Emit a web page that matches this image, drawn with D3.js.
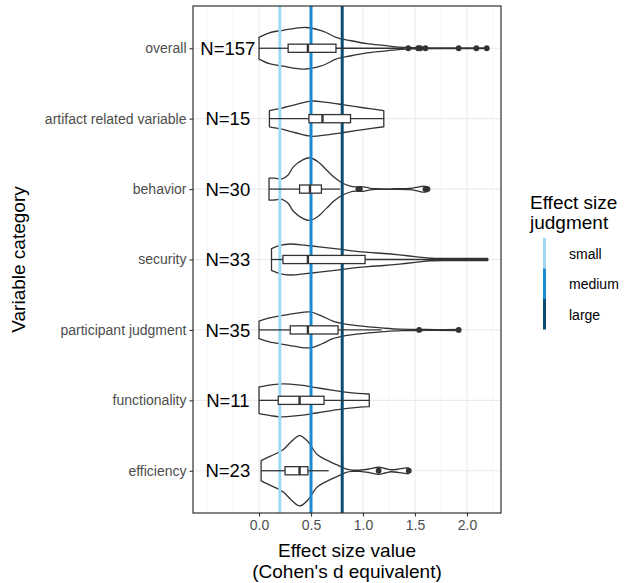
<!DOCTYPE html>
<html>
<head>
<meta charset="utf-8">
<script src="https://cdn.jsdelivr.net/npm/d3@7"></script>
<style>
  body { margin: 0; background: #fff; }
  text { font-family: "Liberation Sans", Arial, sans-serif; }
</style>
</head>
<body>
<svg id="chart" width="625" height="583"></svg>
<script>
// categories, top to bottom
var categories = ["overall", "artifact related variable", "behavior", "security",
                  "participant judgment", "functionality", "efficiency"];
var counts = [157, 15, 30, 33, 35, 11, 23];

// box statistics
var q1 = [0.28, 0.48, 0.39, 0.23, 0.30, 0.185, 0.25];
var medians = [0.47, 0.61, 0.49, 0.47, 0.47, 0.39, 0.39];
var q3 = [0.74, 0.88, 0.60, 1.02, 0.76, 0.625, 0.47];
var whiskerLo = [0.00, 0.10, 0.096, 0.12, 0.00, 0.00, 0.02];
var whiskerHi = [1.40, 1.20, 0.78, 2.20, 1.18, 1.06, 0.67];
var outliers = [
  [1.435, 1.53, 1.55, 1.60, 1.92, 2.09, 2.19],
  [],
  [0.955, 0.97, 1.60, 1.62],
  [],
  [1.54, 1.92],
  [],
  [1.15, 1.44]
];

// violin outlines: effect size value and relative density
var violinX = [
  [0.00, 0.10, 0.23, 0.45, 0.59, 0.65, 0.74, 0.875, 1.04, 1.2, 1.36, 1.5, 1.8, 2.2],
  [0.10, 0.22, 0.35, 0.5, 0.65, 0.8, 1.0, 1.2],
  [0.096, 0.15, 0.22, 0.28, 0.33, 0.42, 0.49, 0.57, 0.65, 0.72, 0.78, 0.87, 0.93, 0.96, 1.0, 1.06, 1.12, 1.3, 1.45, 1.53, 1.58, 1.62],
  [0.12, 0.2, 0.3, 0.45, 0.58, 0.75, 0.875, 1.05, 1.2, 1.35, 1.52, 1.65, 1.9, 2.2],
  [0.0, 0.1, 0.23, 0.35, 0.49, 0.6, 0.71, 0.82, 0.94, 1.2, 1.36, 1.54, 1.7, 1.92],
  [0.0, 0.12, 0.23, 0.4, 0.55, 0.7, 0.81, 0.95, 1.06],
  [0.02, 0.07, 0.18, 0.24, 0.31, 0.39, 0.47, 0.56, 0.68, 0.77, 0.84, 0.9, 0.97, 1.06, 1.15, 1.22, 1.27, 1.35, 1.435]
];
var violinDensity = [
  [0.31, 0.44, 0.51, 0.59, 0.51, 0.44, 0.31, 0.22, 0.13, 0.08, 0.03, 0.015, 0.01, 0.01],
  [0.23, 0.30, 0.40, 0.50, 0.46, 0.40, 0.31, 0.23],
  [0.31, 0.31, 0.29, 0.40, 0.63, 0.83, 0.89, 0.77, 0.54, 0.34, 0.21, 0.09, 0.06, 0.066, 0.063, 0.03, 0.011, 0.009, 0.017, 0.057, 0.086, 0.071],
  [0.31, 0.40, 0.44, 0.40, 0.36, 0.30, 0.25, 0.20, 0.17, 0.13, 0.077, 0.035, 0.03, 0.03],
  [0.25, 0.34, 0.41, 0.47, 0.51, 0.40, 0.25, 0.17, 0.12, 0.05, 0.02, 0.017, 0.011, 0.017],
  [0.38, 0.44, 0.47, 0.43, 0.36, 0.29, 0.24, 0.20, 0.18],
  [0.29, 0.36, 0.51, 0.62, 0.83, 1.0, 0.83, 0.46, 0.26, 0.14, 0.043, 0.017, 0.017, 0.051, 0.10, 0.057, 0.029, 0.051, 0.086]
];

// reference lines
var judgments = ["small", "medium", "large"];
var thresholds = [0.2, 0.5, 0.8];
var judgmentColors = ["#9fd9f6", "#1a8bd0", "#0b4d72"];

var xTicks = [0, 0.5, 1, 1.5, 2];
var xMinor = [-0.5, -0.25, 0.25, 0.75, 1.25, 1.75, 2.25];

var svg = d3.select("#chart");
var pLeft = 193, pRight = 501, pTop = 6, pBottom = 513;
var ink = "#333";
var lw = 1.3;

var x = d3.scaleLinear().domain([-0.635, 2.327]).range([pLeft, pRight]);
var y = d3.scalePoint().domain(categories).range([pTop, pBottom]).padding(0.6);
var step = y.step();
var dens = d3.scaleLinear().domain([0, 1]).range([0, step * 0.5]);

// grid
var grid = svg.append("g");
grid.selectAll(".minor").data(xMinor).join("line")
  .attr("x1", d => x(d)).attr("x2", d => x(d)).attr("y1", pTop).attr("y2", pBottom)
  .attr("stroke", "#f2f2f2").attr("stroke-width", 0.6);
grid.selectAll(".major").data(xTicks).join("line")
  .attr("x1", d => x(d)).attr("x2", d => x(d)).attr("y1", pTop).attr("y2", pBottom)
  .attr("stroke", "#ebebeb").attr("stroke-width", 1.1);
grid.selectAll(".hmajor").data(categories).join("line")
  .attr("x1", pLeft).attr("x2", pRight).attr("y1", d => y(d)).attr("y2", d => y(d))
  .attr("stroke", "#ebebeb").attr("stroke-width", 1.1);

// violins
var plot = svg.append("g");
categories.forEach(function(c, i) {
  var cy = y(c);
  var pts = violinX[i].map((v, j) => [v, violinDensity[i][j]]);
  var area = d3.area()
    .x(d => x(d[0]))
    .y0(d => cy - dens(d[1]))
    .y1(d => cy + dens(d[1]))
    .curve(d3.curveCatmullRom.alpha(0.5));
  plot.append("path").attr("d", area(pts))
    .attr("fill", "#fff").attr("stroke", ink).attr("stroke-width", lw)
    .attr("stroke-linejoin", "round");
});

// reference lines
svg.append("g").selectAll("line").data(thresholds).join("line")
  .attr("x1", d => x(d)).attr("x2", d => x(d)).attr("y1", pTop).attr("y2", pBottom)
  .attr("stroke", (d, i) => judgmentColors[i]).attr("stroke-width", 3);

// boxplots
var boxHalf = step * 0.058;
var boxes = svg.append("g");
categories.forEach(function(c, i) {
  var cy = y(c);
  var g = boxes.append("g");
  g.append("line").attr("x1", x(whiskerLo[i])).attr("x2", x(q1[i]))
    .attr("y1", cy).attr("y2", cy).attr("stroke", ink).attr("stroke-width", lw);
  g.append("line").attr("x1", x(q3[i])).attr("x2", x(whiskerHi[i]))
    .attr("y1", cy).attr("y2", cy).attr("stroke", ink).attr("stroke-width", lw);
  g.append("rect").attr("x", x(q1[i])).attr("width", x(q3[i]) - x(q1[i]))
    .attr("y", cy - boxHalf).attr("height", boxHalf * 2)
    .attr("fill", "#fff").attr("stroke", ink).attr("stroke-width", lw);
  g.append("line").attr("x1", x(medians[i])).attr("x2", x(medians[i]))
    .attr("y1", cy - boxHalf).attr("y2", cy + boxHalf)
    .attr("stroke", ink).attr("stroke-width", 2.4);
  g.selectAll("circle").data(outliers[i]).join("circle")
    .attr("cx", d => x(d)).attr("cy", cy).attr("r", 2.9).attr("fill", ink);
});

// N labels
svg.append("g").selectAll("text").data(categories).join("text")
  .attr("x", x(-0.3)).attr("y", d => y(d)).attr("dy", "0.36em")
  .attr("text-anchor", "middle").attr("font-size", 18.5).attr("fill", "#000")
  .text((d, i) => "N=" + counts[i]);

// panel border
svg.append("rect").attr("x", pLeft).attr("y", pTop)
  .attr("width", pRight - pLeft).attr("height", pBottom - pTop)
  .attr("fill", "none").attr("stroke", ink).attr("stroke-width", 1.2);

// axes
var xAxis = svg.append("g").attr("transform", "translate(0," + pBottom + ")")
  .call(d3.axisBottom(x).tickValues(xTicks).tickFormat(d3.format(".1f")).tickSize(3.5).tickPadding(4));
var yAxis = svg.append("g").attr("transform", "translate(" + pLeft + ",0)")
  .call(d3.axisLeft(y).tickSize(3.5).tickPadding(3));
[xAxis, yAxis].forEach(function(a) {
  a.select(".domain").remove();
  a.selectAll(".tick line").attr("stroke", ink).attr("stroke-width", 1.1);
  a.selectAll(".tick text").attr("fill", "#4d4d4d").attr("font-size", 14)
    .attr("font-family", "Liberation Sans, Arial, sans-serif");
});

// axis titles
svg.append("text").attr("x", (pLeft + pRight) / 2).attr("y", 557)
  .attr("text-anchor", "middle").attr("font-size", 19).text("Effect size value");
svg.append("text").attr("x", (pLeft + pRight) / 2).attr("y", 578)
  .attr("text-anchor", "middle").attr("font-size", 19).text("(Cohen's d equivalent)");
svg.append("text").attr("transform", "translate(25," + (pTop + pBottom) / 2 + ") rotate(-90)")
  .attr("text-anchor", "middle").attr("font-size", 19).text("Variable category");

// legend
var legend = svg.append("g");
legend.append("text").attr("x", 530).attr("y", 209).attr("font-size", 19).text("Effect size");
legend.append("text").attr("x", 530).attr("y", 229).attr("font-size", 19).text("judgment");
judgments.forEach(function(j, i) {
  var ky = 238 + i * 30.5;
  legend.append("line").attr("x1", 544.5).attr("x2", 544.5)
    .attr("y1", ky).attr("y2", ky + 30.5)
    .attr("stroke", judgmentColors[i]).attr("stroke-width", 3);
  legend.append("text").attr("x", 569).attr("y", ky + 15.5).attr("dy", "0.36em")
    .attr("font-size", 14).attr("fill", "#000").text(j);
});
</script>
</body>
</html>
